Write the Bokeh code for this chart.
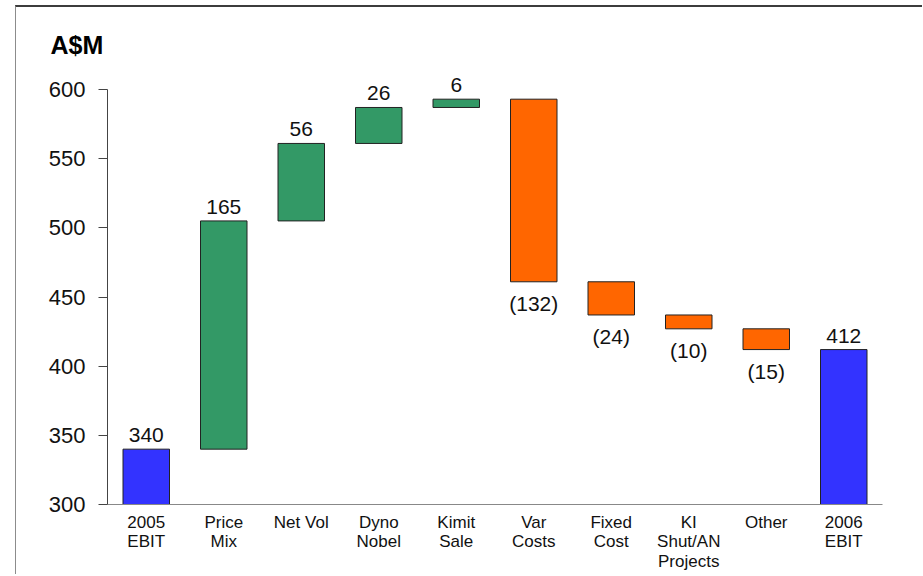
from bokeh.plotting import figure
from bokeh.models import ColumnDataSource, FixedTicker
from bokeh.core.properties import value
from bokeh.embed import file_html
from bokeh.resources import INLINE

# ---- data ----
categories = ["2005\nEBIT", "Price\nMix", "Net Vol", "Dyno\nNobel", "Kimit\nSale",
              "Var\nCosts", "Fixed\nCost", "KI\nShut/AN\nProjects", "Other", "2006\nEBIT"]
changes = [340, 165, 56, 26, 6, -132, -24, -10, -15, 412]
kinds = ["total", "up", "up", "up", "up", "down", "down", "down", "down", "total"]
y_ticks = [300, 350, 400, 450, 500, 550, 600]
unit_label = "A$M"

colors = {"total": "#3333FF", "up": "#339966", "down": "#FF6600"}

# waterfall geometry from the data
bottoms, tops, label_y, label_txt, anchor = [], [], [], [], []
running = 0
for c, k in zip(changes, kinds):
    if k == "total":
        b, t = 300, c
        running = c
    else:
        start = running
        running = running + c
        b, t = min(start, running), max(start, running)
    bottoms.append(b)
    tops.append(t)
    if c >= 0:
        label_y.append(t)
        label_txt.append(str(c))
        anchor.append("up")
    else:
        label_y.append(b)
        label_txt.append("(%d)" % abs(c))
        anchor.append("down")

src = ColumnDataSource(dict(x=categories, top=tops, bottom=bottoms,
                            color=[colors[k] for k in kinds]))

y_end = 300 + 444 * 300 / 415.0

p = figure(x_range=categories, y_range=(300, y_end), width=907, height=569,
           output_backend="svg", toolbar_location=None,
           min_border_left=91, min_border_right=41, min_border_top=53,
           min_border_bottom=72, title=unit_label)
p.styles = {"margin-left": "15px", "margin-top": "5px",
            "border-left": "1px solid #8c8c8c", "border-top": "2px solid #3c3c3c"}
p.title.align = "left"
p.title.offset = -57
p.title.standoff = 4
p.title.text_font = "Liberation Sans"
p.title.text_font_size = "25px"
p.title.text_font_style = "bold"
p.title.text_color = "#000000"

p.x_range.range_padding = 0
p.outline_line_color = None
p.xgrid.visible = False
p.ygrid.visible = False

p.vbar(x="x", top="top", bottom="bottom", width=0.6, source=src,
       fill_color="color", line_color="#222222", line_width=1)

up_src = ColumnDataSource(dict(
    x=[categories[i] for i in range(len(categories)) if anchor[i] == "up"],
    y=[label_y[i] for i in range(len(categories)) if anchor[i] == "up"],
    t=[label_txt[i] for i in range(len(categories)) if anchor[i] == "up"]))
dn_src = ColumnDataSource(dict(
    x=[categories[i] for i in range(len(categories)) if anchor[i] == "down"],
    y=[label_y[i] for i in range(len(categories)) if anchor[i] == "down"],
    t=[label_txt[i] for i in range(len(categories)) if anchor[i] == "down"]))

p.text(x="x", y="y", text="t", source=up_src, text_align="center",
       text_baseline="bottom", y_offset=-7,
       text_font=value("Liberation Sans"), text_font_size="21px", text_color="#111111")
p.text(x="x", y="y", text="t", source=dn_src, text_align="center",
       text_baseline="top", y_offset=10,
       text_font=value("Liberation Sans"), text_font_size="21px", text_color="#111111")

# y axis
ya = p.yaxis[0]
ya.ticker = FixedTicker(ticks=y_ticks)
ya.bounds = (300, 600)
ya.axis_line_color = "#444444"
ya.major_tick_line_color = "#444444"
ya.major_tick_out = 9
ya.major_tick_in = 0
ya.minor_tick_line_color = None
ya.major_label_text_font = "Liberation Sans"
ya.major_label_text_font_size = "22px"
ya.major_label_text_color = "#111111"
ya.major_label_standoff = 13

# x axis
xa = p.xaxis[0]
xa.axis_line_color = "#888888"
xa.major_tick_line_color = None
xa.major_tick_out = 0
xa.major_tick_in = 0
xa.major_label_text_font = "Liberation Sans"
xa.major_label_text_font_size = "17px"
xa.major_label_text_line_height = 1.05
xa.major_label_text_color = "#111111"
xa.major_label_standoff = 8

open("out.html", "w").write(file_html(p, INLINE))
